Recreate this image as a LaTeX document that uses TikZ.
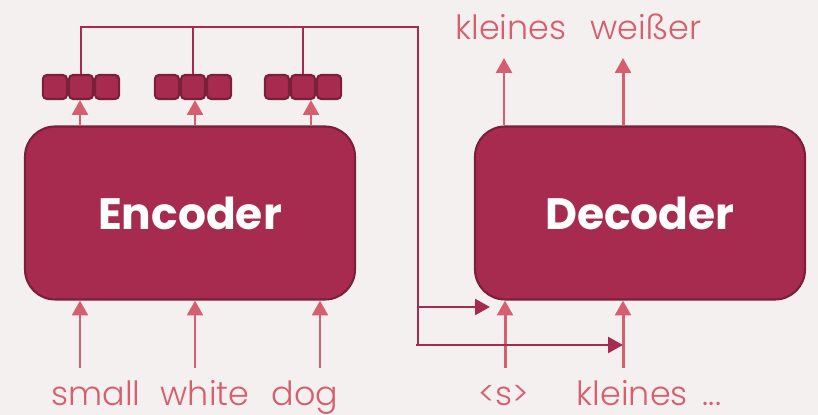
\documentclass[tikz,border=0pt]{standalone}
\usepackage{fontspec}
\setmainfont{Poppins Light}
\newfontfamily\blockfont{Poppins Bold}
\usetikzlibrary{positioning,arrows.meta}

\definecolor{bg}{HTML}{F4F0EF}
\definecolor{wine}{HTML}{A62B4F}
\definecolor{winedark}{HTML}{7B1F3B}
\definecolor{rose}{HTML}{D65F6F}

\tikzset{
  block/.style={draw=winedark, line width=1.2pt, fill=wine, rounded corners=0.6cm,
    minimum width=6.6cm, minimum height=3.46cm, text=white,
    font=\blockfont\fontsize{25}{30}\selectfont},
  cell/.style={draw=winedark, line width=1.2pt, fill=wine, rounded corners=0.08cm,
    minimum size=0.48cm, inner sep=0pt},
  word/.style={text=rose, font=\fontsize{19}{22}\selectfont, inner sep=0pt, anchor=base},
  flow/.style={rose, line width=1.7pt, -{Triangle[width=9pt,length=8.5pt]}},
  ctx/.style={wine, line width=1.1pt},
  ctxarrow/.style={ctx, line width=1.5pt, -{Triangle[width=9pt,length=8.5pt]}},
}

\begin{document}
\begin{tikzpicture}[x=0.02cm,y=-0.02cm]
  \fill[bg] (0,0) rectangle (818,415);

  \node[block] (enc) at (190,213) {Encoder};
  \node[block] (dec) at (640,213) {Decoder};

  % encoder states, three cells each
  \foreach \g/\cx in {1/81,2/193,3/303} {
    \node[cell] (v\g b) at (\cx,87) {};
    \node[cell, left=0pt of v\g b] (v\g a) {};
    \node[cell, right=0pt of v\g b] (v\g c) {};
  }

  % words
  \node[word] (src1) at (96,405) {small};
  \node[word] (src2) at (205,405) {white};
  \node[word] (src3) at (305,405) {dog};
  \node[word] (tgt1) at (504,405) {<s>};
  \node[word] (tgt2) at (649,405) {kleines\hspace{0.45em}...};
  \node[word] (out1) at (511,40) {kleines};
  \node[word] (out2) at (646,40) {weißer};

  % arrows into and out of the blocks
  \foreach \n/\cx in {1/80,2/195,3/320,4/505,5/623}
    \coordinate (in\n) at (\cx,368);
  \foreach \n in {1,2,3}
    \draw[flow] (in\n) -- (in\n |- enc.south);
  \foreach \n in {4,5}
    \draw[flow] (in\n) -- (in\n |- dec.south);
  \foreach \g/\cx in {1/80,2/195,3/311}
    \draw[flow] (\cx,0 |- enc.north) -- (\cx,0 |- v\g b.south);
  \coordinate (up1) at (504,58);
  \coordinate (up2) at (623,58);
  \draw[flow] (up1 |- dec.north) -- (up1);
  \draw[flow] (up2 |- dec.north) -- (up2);

  % context passed to the decoder
  \coordinate (bend) at (418,27);
  \coordinate (tap) at (418,307);
  \coordinate (low) at (416,345);
  \draw[ctx] (v1b.north) |- (bend) -- (bend |- low);
  \draw[ctx] (v2b.north) -- (v2b.north |- bend);
  \draw[ctx] (v3b.north) -- (v3b.north |- bend);
  \draw[ctxarrow] (tap) -- (490,307);
  \draw[ctxarrow] (low) -- (low -| in5);
\end{tikzpicture}
\end{document}
